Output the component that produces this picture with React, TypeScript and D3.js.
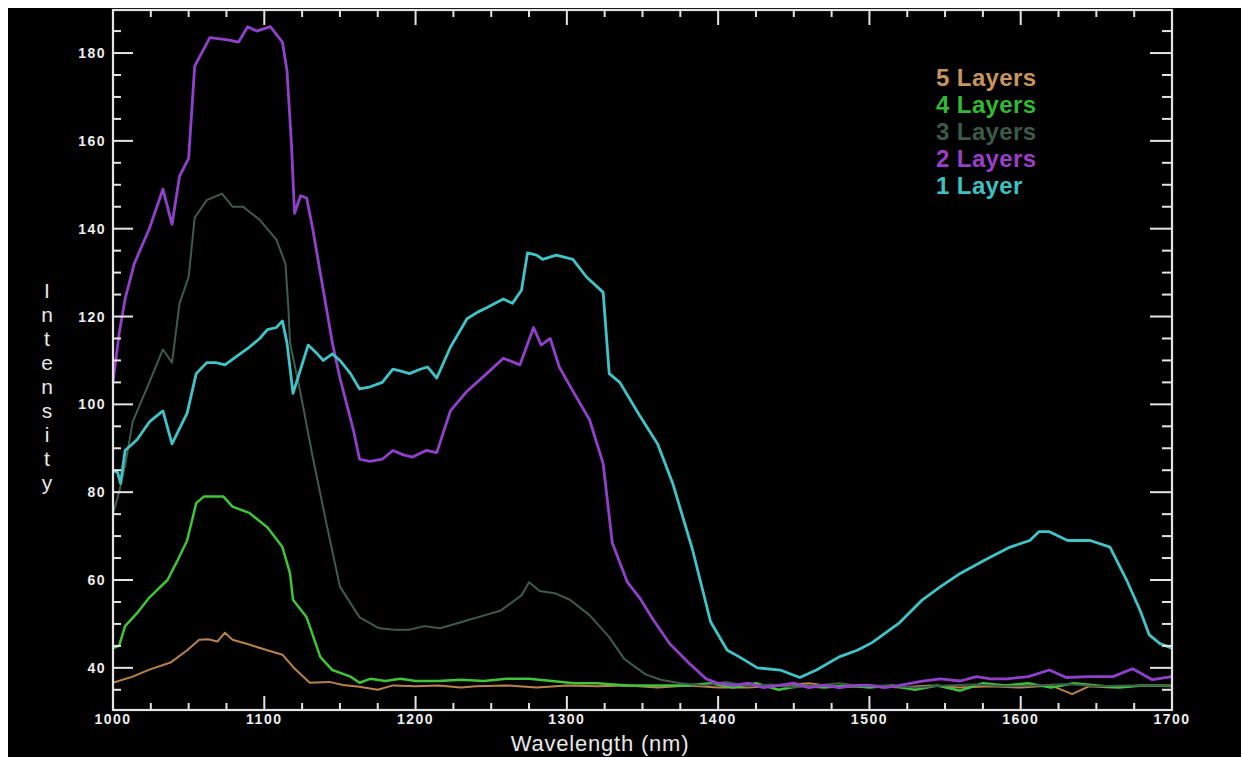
import * as d3 from "d3";

// wavelength (nm) / intensity pairs
const layer1 = [
  [1000, 85], [1003, 84.5], [1005, 82], [1008, 89.5], [1016, 92], [1024, 96], [1033, 98.5],
  [1039, 91], [1049, 98], [1055, 107], [1062, 109.5], [1068, 109.5], [1074, 109], [1084, 111.5],
  [1090, 113], [1097, 115], [1102, 117], [1108, 117.5], [1112, 119], [1115, 114], [1119, 102.5],
  [1124, 108], [1129, 113.5], [1135, 111.5], [1139, 110], [1145, 111.5], [1150, 110], [1157, 107],
  [1163, 103.5], [1170, 104], [1178, 105], [1185, 108], [1191, 107.5], [1196, 107], [1203, 108],
  [1208, 108.5], [1214, 106], [1223, 113], [1234, 119.5], [1241, 121], [1247, 122], [1258, 124],
  [1264, 123], [1270, 126], [1274, 134.5], [1280, 134], [1284, 133], [1293, 134], [1304, 133],
  [1313, 129], [1324, 125.5], [1328, 107], [1335, 105], [1348, 97.5], [1360, 91], [1370, 82],
  [1383, 67], [1395, 50.5], [1406, 44], [1414, 42.5], [1426, 40], [1441, 39.5], [1454, 37.8],
  [1465, 39.5], [1480, 42.5], [1492, 44], [1502, 45.8], [1520, 50.3], [1535, 55.5], [1547, 58.5],
  [1560, 61.5], [1576, 64.5], [1593, 67.5], [1606, 69], [1612, 71], [1619, 71], [1631, 69],
  [1646, 69], [1659, 67.5], [1670, 60], [1679, 53], [1685, 47.5], [1692, 45.5], [1700, 44.5],
];

const layer2 = [
  [1000, 105], [1004, 116], [1008, 124], [1014, 132], [1024, 140], [1033, 149], [1039, 141],
  [1044, 152], [1050, 156], [1054, 177], [1064, 183.5], [1076, 183], [1083, 182.5], [1089, 186],
  [1095, 185], [1104, 186], [1112, 182.5], [1115, 176], [1118, 159], [1120, 143.5], [1124, 147.5],
  [1128, 147], [1132, 140], [1138, 128], [1145, 114], [1150, 106], [1159, 94], [1163, 87.5],
  [1170, 87], [1178, 87.5], [1185, 89.5], [1192, 88.5], [1198, 88], [1207, 89.5], [1214, 89],
  [1223, 98.5], [1234, 103], [1247, 107], [1258, 110.5], [1269, 109], [1278, 117.5], [1283, 113.5],
  [1289, 115], [1295, 108.5], [1304, 103], [1315, 96.5], [1324, 86.5], [1330, 68.5], [1340, 59.5],
  [1348, 56], [1357, 51], [1368, 45.5], [1381, 41], [1392, 37.5], [1400, 36.5], [1410, 36],
  [1420, 36.5], [1430, 35.5], [1440, 36], [1450, 36.5], [1460, 35.5], [1470, 36], [1480, 35.5],
  [1490, 36], [1500, 36], [1510, 35.5], [1520, 36], [1535, 37], [1547, 37.5], [1560, 37],
  [1571, 38], [1580, 37.5], [1591, 37.5], [1605, 38], [1619, 39.5], [1630, 37.8], [1645, 38],
  [1661, 38], [1674, 39.8], [1687, 37.3], [1700, 38],
];

const layer3 = [
  [1000, 75], [1004, 80], [1008, 86], [1013, 96], [1024, 105], [1033, 112.5], [1039, 109.5],
  [1044, 123], [1050, 129], [1054, 142.5], [1062, 146.5], [1072, 148], [1079, 145], [1086, 145],
  [1097, 142], [1108, 137.5], [1114, 132], [1116, 121.5], [1117, 114], [1124, 102.5], [1132, 88],
  [1141, 73], [1150, 58.5], [1163, 51.5], [1176, 49], [1186, 48.7], [1196, 48.7], [1206, 49.5],
  [1216, 49], [1226, 50], [1236, 51], [1246, 52], [1256, 53], [1264, 55], [1270, 56.5],
  [1275, 59.5], [1282, 57.5], [1292, 57], [1302, 55.5], [1315, 52], [1328, 47], [1338, 42],
  [1352, 38.5], [1362, 37.3], [1375, 36.5], [1390, 36], [1405, 36.8], [1420, 35.8], [1435, 36.2],
  [1450, 35.5], [1465, 36], [1480, 36.5], [1495, 35.8], [1510, 36], [1530, 35.5], [1550, 36],
  [1570, 36.2], [1590, 35.8], [1610, 36], [1630, 36.3], [1650, 35.8], [1670, 36], [1700, 36],
];

const layer4 = [
  [1000, 44.5], [1004, 45], [1008, 49.5], [1016, 52.5], [1024, 56], [1036, 60], [1042, 64],
  [1049, 69], [1055, 77.5], [1060, 79], [1073, 79], [1079, 76.7], [1090, 75.3], [1102, 72],
  [1112, 67.5], [1117, 61.5], [1119, 55.5], [1128, 51.5], [1137, 42.5], [1145, 39.5], [1157, 38],
  [1163, 36.6], [1170, 37.5], [1180, 37], [1190, 37.5], [1200, 37], [1215, 37], [1230, 37.3],
  [1245, 37], [1260, 37.5], [1275, 37.5], [1290, 37], [1305, 36.5], [1320, 36.5], [1340, 36],
  [1360, 36], [1380, 36], [1395, 36.5], [1410, 35.5], [1425, 36.5], [1440, 35], [1455, 36],
  [1470, 35.5], [1485, 36], [1500, 35.5], [1515, 36], [1530, 35], [1545, 36], [1560, 34.8],
  [1575, 36.5], [1590, 36], [1605, 36.5], [1620, 35.5], [1635, 36.5], [1650, 36], [1665, 35.5],
  [1680, 36], [1700, 36],
];

const layer5 = [
  [1000, 36.6], [1013, 38], [1024, 39.6], [1038, 41.2], [1049, 44], [1057, 46.4], [1063, 46.5],
  [1069, 46], [1074, 48], [1079, 46.4], [1090, 45.3], [1102, 44], [1112, 43], [1119, 40.2],
  [1130, 36.6], [1143, 36.8], [1152, 36.1], [1163, 35.7], [1175, 35], [1185, 36], [1200, 35.8],
  [1215, 36], [1230, 35.5], [1240, 35.8], [1260, 36], [1280, 35.5], [1300, 36], [1320, 35.8],
  [1340, 36], [1360, 35.5], [1380, 36], [1400, 35.5], [1420, 35.5], [1440, 36], [1460, 36.5],
  [1480, 35.5], [1500, 36], [1520, 35.5], [1540, 36], [1560, 35.5], [1580, 35.8], [1600, 35.5],
  [1620, 36], [1634, 34], [1645, 35.8], [1660, 35.5], [1680, 36], [1700, 35.8],
];

const seriesNames = ["5 Layers", "4 Layers", "3 Layers", "2 Layers", "1 Layer"];
const seriesData = [layer5, layer4, layer3, layer2, layer1];
const lineColors = ["#b9824c", "#3fc43a", "#3e5c4c", "#9140cc", "#40c4c8"];
const legendColors = ["#c8955c", "#33b833", "#3c5a4a", "#9b3fc8", "#3ec0c4"];
const lineWidths = [2, 2.5, 2, 2.8, 2.8];

const xMajorTicks = [1000, 1100, 1200, 1300, 1400, 1500, 1600, 1700];
const yMajorTicks = [40, 60, 80, 100, 120, 140, 160, 180];
const yTitle = "Intensity";

const W = 1241;
const H = 757;
const left = 113, right = 1172, top = 10, bottom = 710;

export default function App() {
  const x = d3.scaleLinear().domain([1000, 1700]).range([left, right]);
  const y = d3.scaleLinear().domain([30.4, 189.8]).range([bottom, top]);
  const line = d3
    .line<number[]>()
    .x((d) => x(d[0]))
    .y((d) => y(d[1]));

  const xMinor = d3.range(1000, 1701, 25).filter((v) => v % 100 !== 0);
  const yMinor = d3.range(35, 190, 5).filter((v) => v % 20 !== 0);
  const axisColor = "#e4e4e4";
  const font = "'Liberation Sans', Arial, sans-serif";

  return (
    <svg
      width={W}
      height={H}
      style={{ position: "absolute", left: 0, top: 0, display: "block" }}
    >
      <rect x={0} y={0} width={W} height={H} fill="#fff" />
      <rect x={8} y={8} width={W - 8} height={H - 8} fill="#000" />

      <g>
        {seriesData.map((d, i) => (
          <path
            key={seriesNames[i]}
            d={line(d) || ""}
            fill="none"
            stroke={lineColors[i]}
            strokeWidth={lineWidths[i]}
            strokeLinejoin="round"
          />
        ))}
      </g>

      {/* frame */}
      <rect
        x={left}
        y={top}
        width={right - left}
        height={bottom - top}
        fill="none"
        stroke={axisColor}
        strokeWidth={2.2}
      />

      {/* x ticks, bottom and top */}
      {xMajorTicks.map((v) => (
        <g key={"xM" + v}>
          <line x1={x(v)} x2={x(v)} y1={bottom} y2={bottom - 14} stroke={axisColor} strokeWidth={2} />
          <line x1={x(v)} x2={x(v)} y1={top} y2={top + 15} stroke={axisColor} strokeWidth={2} />
          <text
            x={x(v)}
            y={724}
            textAnchor="middle"
            fill="#eee"
            fontSize={14}
            fontWeight="bold"
            letterSpacing={1.5}
            fontFamily={font}
          >
            {v}
          </text>
        </g>
      ))}
      {xMinor.map((v) => (
        <g key={"xm" + v}>
          <line x1={x(v)} x2={x(v)} y1={bottom} y2={bottom - 7} stroke={axisColor} strokeWidth={2} />
          <line x1={x(v)} x2={x(v)} y1={top} y2={top + 7} stroke={axisColor} strokeWidth={2} />
        </g>
      ))}

      {/* y ticks, left and right */}
      {yMajorTicks.map((v) => (
        <g key={"yM" + v}>
          <line x1={left} x2={left + 20} y1={y(v)} y2={y(v)} stroke={axisColor} strokeWidth={2} />
          <line x1={right} x2={right - 22} y1={y(v)} y2={y(v)} stroke={axisColor} strokeWidth={2} />
          <text
            x={106}
            y={y(v) + 5}
            textAnchor="end"
            fill="#eee"
            fontSize={14}
            fontWeight="bold"
            letterSpacing={1.5}
            fontFamily={font}
          >
            {v}
          </text>
        </g>
      ))}
      {yMinor.map((v) => (
        <g key={"ym" + v}>
          <line x1={left} x2={left + 8} y1={y(v)} y2={y(v)} stroke={axisColor} strokeWidth={2} />
          <line x1={right} x2={right - 10} y1={y(v)} y2={y(v)} stroke={axisColor} strokeWidth={2} />
        </g>
      ))}

      {/* axis titles */}
      <text
        x={600}
        y={751}
        textAnchor="middle"
        fill="#e8e8e8"
        fontSize={22}
        letterSpacing={0.8}
        fontFamily={font}
      >
        Wavelength (nm)
      </text>
      {yTitle.split("").map((c, i) => (
        <text
          key={"t" + i}
          x={47}
          y={298 + i * 24}
          textAnchor="middle"
          fill="#e8e8e8"
          fontSize={21}
          fontFamily={font}
        >
          {c}
        </text>
      ))}

      {/* legend */}
      {seriesNames.map((name, i) => (
        <text
          key={"lg" + name}
          x={936}
          y={86 + i * 27}
          fill={legendColors[i]}
          fontSize={24}
          fontWeight="bold"
          letterSpacing={0.4}
          fontFamily={font}
        >
          {name}
        </text>
      ))}
    </svg>
  );
}
